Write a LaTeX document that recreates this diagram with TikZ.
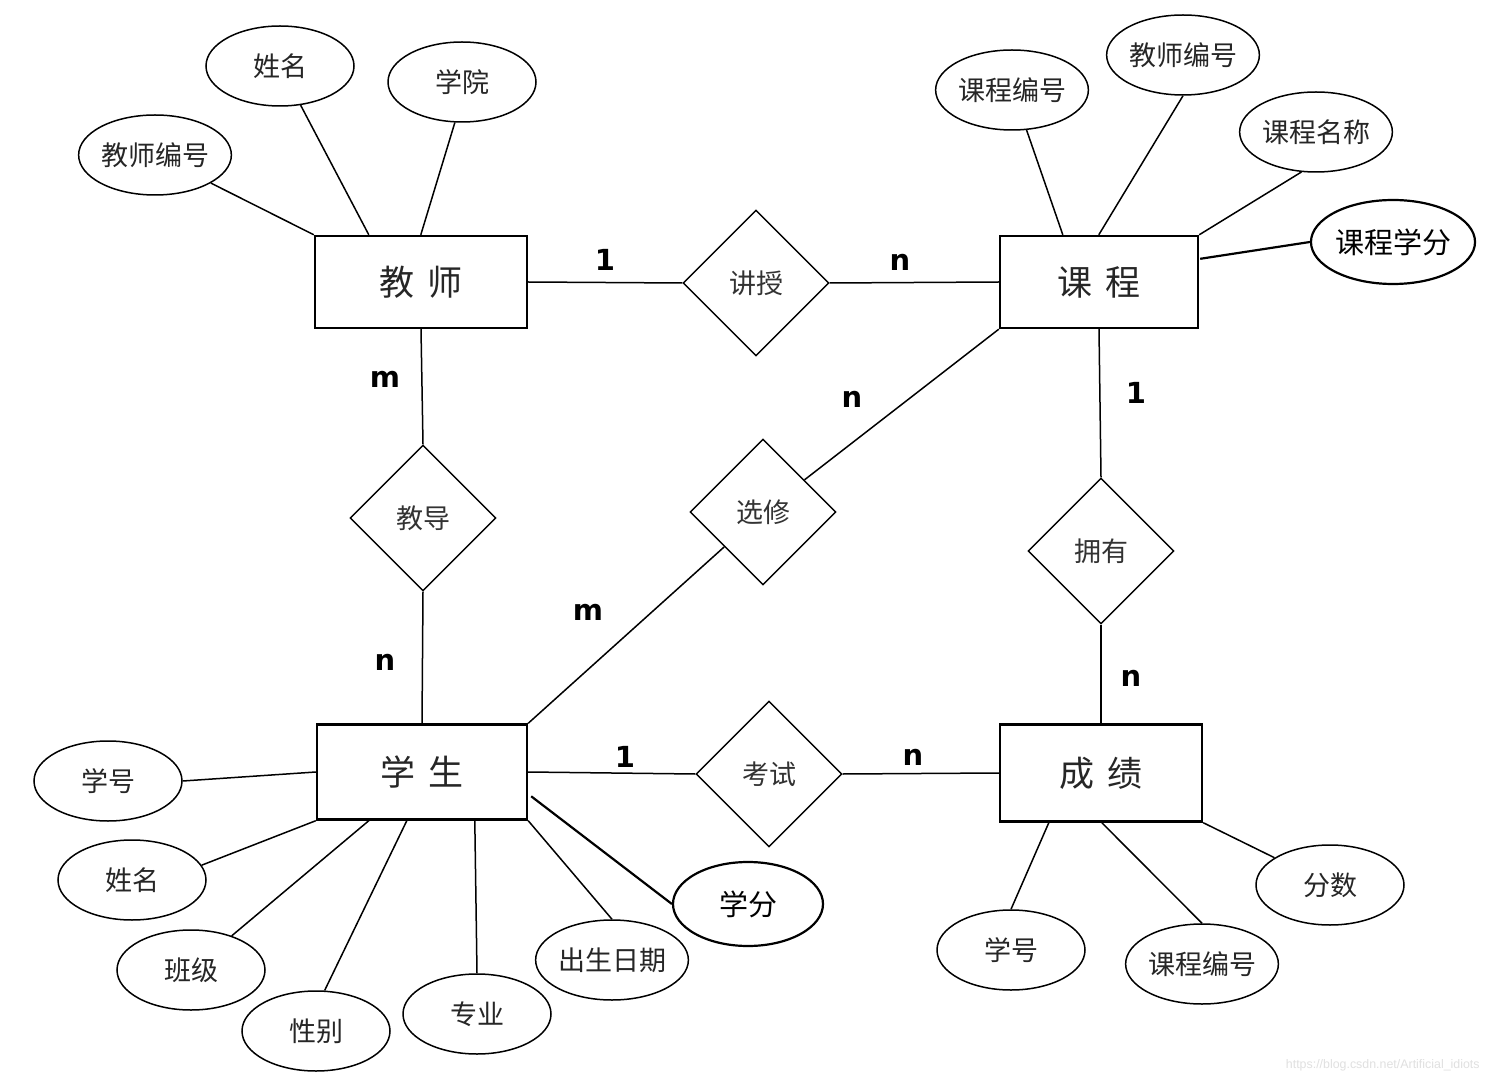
\documentclass[tikz,border=0pt]{standalone}
\usepackage{fontspec}
\newfontfamily\cjk{Noto Sans CJK SC}
\newfontfamily\dvs{DejaVu Sans}
\newfontfamily\lsans{Liberation Sans}
\usetikzlibrary{shapes.geometric,calc}
\begin{document}
\begin{tikzpicture}[x=0.5pt,y=-0.5pt,
  ent/.style={draw, line width=1.2pt, inner sep=0pt, text=black!85, font=\cjk\fontsize{17.5}{20}\selectfont},
  attr/.style={draw, ellipse, line width=0.75pt, minimum width=74pt, minimum height=40pt, inner sep=0pt, text=black!85, font=\cjk\fontsize{13.5}{16}\selectfont},
  attrb/.style={draw, ellipse, line width=1.1pt, minimum width=75pt, minimum height=42pt, inner sep=0pt, text=black, font=\cjk\fontsize{14.5}{17}\selectfont},
  rel/.style={draw, diamond, aspect=1, line width=0.7pt, minimum width=73pt, minimum height=73pt, inner sep=0pt, text=black!80, font=\cjk\fontsize{13.5}{16}\selectfont},
  card/.style={inner sep=0pt, font=\dvs\bfseries\fontsize{14.5}{17}\selectfont},
  conn/.style={line width=0.75pt},
  connb/.style={line width=1.1pt}]
\useasboundingbox[fill=white] (0,0) rectangle (1488,1080);

% entities
\node[ent, minimum width=106pt, minimum height=46pt] (T) at (421,282) {教\hspace{0.35em}师};
\node[ent, minimum width=99pt, minimum height=46pt] (C) at (1099,282) {课\hspace{0.35em}程};
\node[ent, minimum width=105pt, minimum height=47.5pt] (S) at (422,772) {学\hspace{0.35em}生};
\node[ent, minimum width=101pt, minimum height=48.5pt] (G) at (1101,773) {成\hspace{0.35em}绩};

% relationships
\node[rel] (R1) at (756,283) {讲授};
\node[rel] (R2) at (423,518) {教导};
\node[rel] (R3) at (763,512) {选修};
\node[rel] (R4) at (1101,551) {拥有};
\node[rel] (R5) at (769,774) {考试};

% teacher attributes
\node[attr] (a1) at (155,155) {教师编号};
\node[attr] (a2) at (280,66) {姓名};
\node[attr] (a3) at (462,82) {学院};
% course attributes
\node[attr] (b1) at (1012,90) {课程编号};
\node[attr] (b2) at (1183,55) {教师编号};
\node[attr] (b3) at (1316,132) {课程名称};
\node[attrb] (b4) at (1393,242) {课程学分};
% student attributes
\node[attr] (s1) at (108,781) {学号};
\node[attr] (s2) at (132,880) {姓名};
\node[attr] (s3) at (191,970) {班级};
\node[attr] (s4) at (316,1031) {性别};
\node[attr] (s5) at (477,1014) {专业};
\node[attr] (s6) at (612,960) {出生日期};
\node[attrb] (s7) at (748,904) {学分};
% score attributes
\node[attr] (g1) at (1011,950) {学号};
\node[attr] (g2) at (1202,964) {课程编号};
\node[attr] (g3) at (1330,885) {分数};

% relationship connectors
\draw[conn] (T.east) -- (R1.west);
\draw[conn] (R1.east) -- (C.west);
\draw[conn] (T.south) -- (R2.north);
\draw[conn] (R2.south) -- (S.north);
\draw[conn] (C.south west) -- (R3);
\draw[conn] (R3) -- (S.north east);
\draw[conn] (C.south) -- (R4.north);
\draw[conn] (R4.south) -- (G.north);
\draw[conn] (S.east) -- (R5.west);
\draw[conn] (R5.east) -- (G.west);

% attribute connectors
\draw[conn] (a1) -- (T.north west);
\draw[conn] (a2) -- ($(T.north west)+(55,0)$);
\draw[conn] (a3.260) -- ($(T.north west)+(107,0)$);
\draw[conn] (b1.290) -- ($(C.north west)+(64,0)$);
\draw[conn] (b2.south) -- ($(C.north west)+(100,0)$);
\draw[conn] (b3.250) -- (C.north east);
\draw[connb] (b4.west) -- ($(C.north east)+(1,24)$);
\draw[conn] (s1.east) -- (S.west);
\draw[conn] (s2.12) -- (S.south west);
\draw[conn] (s3) -- ($(S.south west)+(53,0)$);
\draw[conn] (s4.78) -- ($(S.south west)+(91,0)$);
\draw[conn] (s5.north) -- ($(S.south west)+(159,0)$);
\draw[conn] (s6.north) -- (S.south east);
\draw[connb] (s7.west) -- ($(S.north east)+(3,73)$);
\draw[conn] (g1.north) -- ($(G.south west)+(50,0)$);
\draw[conn] (g2.north) -- ($(G.south west)+(103,0)$);
\draw[conn] (g3) -- (G.south east);

% cardinalities
\node[card] (c1) at (605,260) {1};
\node[card] (c2) at (900,262) {n};
\node[card] (c3) at (385,379) {m};
\node[card] (c4) at (385,662) {n};
\node[card] (c5) at (852,399) {n};
\node[card] (c6) at (588,612) {m};
\node[card] (c7) at (1136,393) {1};
\node[card] (c8) at (1131,678) {n};
\node[card] (c9) at (625,757) {1};
\node[card] (c10) at (913,757) {n};

% watermark
\node[inner sep=0pt, text=black!12, font=\lsans\fontsize{6.2}{7}\selectfont, anchor=east] (wm) at (1480,1065) {https://blog.csdn.net/Artificial\_idiots};
\end{tikzpicture}
\end{document}
